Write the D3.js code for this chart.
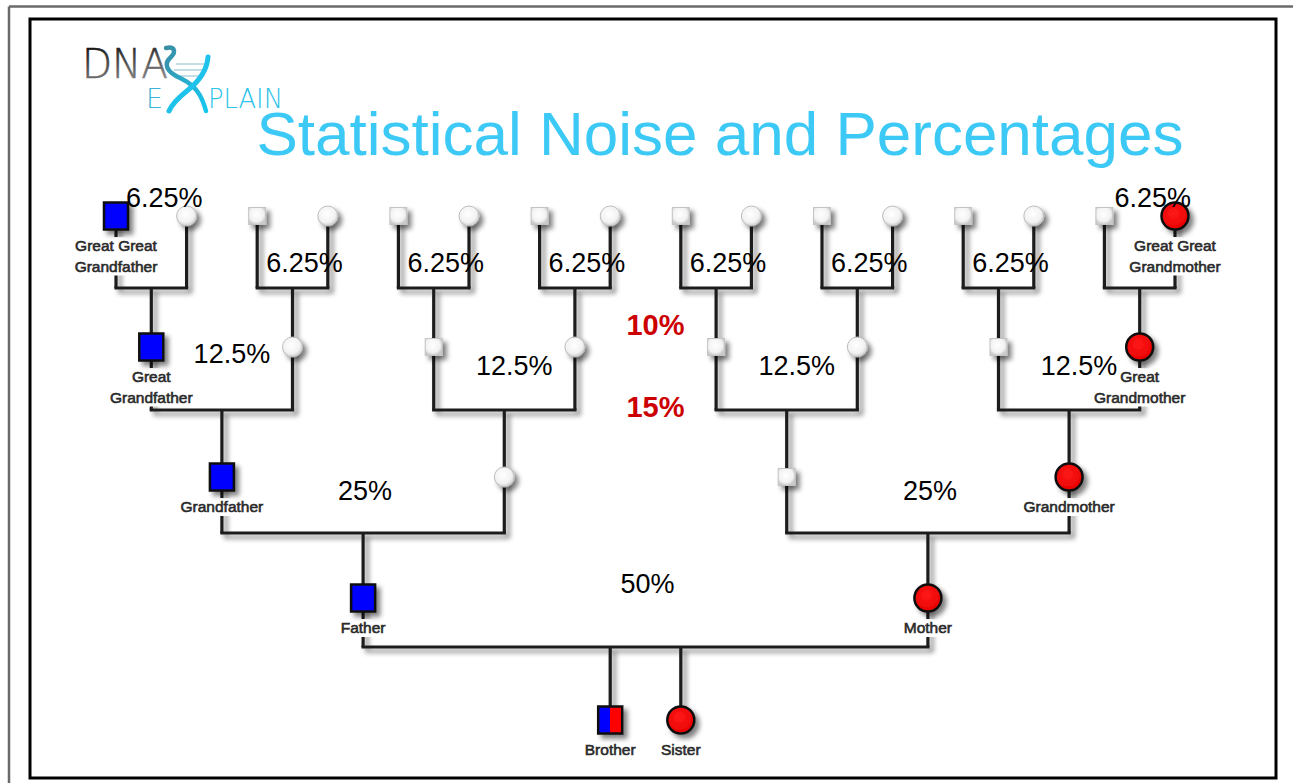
<!DOCTYPE html>
<html><head><meta charset="utf-8">
<script src="https://cdn.jsdelivr.net/npm/d3@7"></script>
<style>html,body{margin:0;padding:0;background:#fff;} svg{display:block}</style>
</head><body>
<svg id="chart" width="1293" height="783"></svg>
<script>
// ---------------- DATA ----------------
const chartTitle = "Statistical Noise and Percentages";
const logoTop = "DNA";
const logoE = "E";
const logoBottom = "PLAIN";
// generation 4 = great-great-grandparents ... 0 = siblings
const gen4Sex  = ["M","F","M","F","M","F","M","F","M","F","M","F","M","F","M","F"];
const gen4Fill = ["blue","white","white","white","white","white","white","white","white","white","white","white","white","white","white","red"];
const gen4Labels = ["Great Great\nGrandfather","","","","","","","","","","","","","","","Great Great\nGrandmother"];
const gen3Sex  = ["M","F","M","F","M","F","M","F"];
const gen3Fill = ["blue","white","white","white","white","white","white","red"];
const gen3Labels = ["Great\nGrandfather","","","","","","","Great\nGrandmother"];
const gen2Sex  = ["M","F","M","F"];
const gen2Fill = ["blue","white","white","red"];
const gen2Labels = ["Grandfather","","","Grandmother"];
const gen1Sex  = ["M","F"];
const gen1Fill = ["blue","red"];
const gen1Labels = ["Father","Mother"];
const gen0Sex  = ["M","F"];
const gen0Fill = ["mixed","red"];
const gen0Labels = ["Brother","Sister"];
// shared DNA expected from each couple
const shareGen4 = ["6.25%","6.25%","6.25%","6.25%","6.25%","6.25%","6.25%","6.25%"];
const shareGen3 = ["12.5%","12.5%","12.5%","12.5%"];
const shareGen2 = ["25%","25%"];
const shareGen1 = ["50%"];
const noiseLabels = ["10%","15%"];

// ---------------- LAYOUT ----------------
const svg = d3.select("#chart");
const defs = svg.append("defs");

const sh = defs.append("filter").attr("id","sh").attr("filterUnits","userSpaceOnUse")
  .attr("x",0).attr("y",0).attr("width",1293).attr("height",783);
sh.append("feGaussianBlur").attr("in","SourceAlpha").attr("stdDeviation",2.4).attr("result","b");
sh.append("feOffset").attr("in","b").attr("dx",4).attr("dy",4).attr("result","o");
const ct = sh.append("feComponentTransfer").attr("in","o").attr("result","s");
ct.append("feFuncA").attr("type","linear").attr("slope",0.5);
const mg = sh.append("feMerge");
mg.append("feMergeNode").attr("in","s");
mg.append("feMergeNode").attr("in","SourceGraphic");

const wg = defs.append("radialGradient").attr("id","wg").attr("cx","45%").attr("cy","40%").attr("r","60%");
wg.append("stop").attr("offset","0%").attr("stop-color","#ffffff");
wg.append("stop").attr("offset","70%").attr("stop-color","#f2f2f2");
wg.append("stop").attr("offset","100%").attr("stop-color","#c9c9c9");
const rg = defs.append("radialGradient").attr("id","rg").attr("cx","45%").attr("cy","40%").attr("r","60%");
rg.append("stop").attr("offset","0%").attr("stop-color","#ff1a1a");
rg.append("stop").attr("offset","100%").attr("stop-color","#e80000");
const mix = defs.append("linearGradient").attr("id","mix").attr("x1","0").attr("x2","1");
mix.append("stop").attr("offset","50%").attr("stop-color","#0000ff");
mix.append("stop").attr("offset","50%").attr("stop-color","#ff0000");
const dnaG = defs.append("linearGradient").attr("id","dnaG").attr("x1","0").attr("y1","0").attr("x2","0.3").attr("y2","1");
dnaG.append("stop").attr("offset","0%").attr("stop-color","#000");
dnaG.append("stop").attr("offset","100%").attr("stop-color","#8a8a8a");
const cyG = defs.append("linearGradient").attr("id","cyG").attr("x1","0").attr("y1","0").attr("x2","1").attr("y2","1");
cyG.append("stop").attr("offset","0%").attr("stop-color","#3a8ea6");
cyG.append("stop").attr("offset","100%").attr("stop-color","#16c8f0");

// frames
svg.append("line").attr("x1",9).attr("y1",6.5).attr("x2",1293).attr("y2",6.5).attr("stroke","#6a6a6a").attr("stroke-width",2.5);
svg.append("line").attr("x1",9).attr("y1",6.5).attr("x2",9).attr("y2",783).attr("stroke","#6a6a6a").attr("stroke-width",2.5);
svg.append("rect").attr("x",30).attr("y",19).attr("width",1246).attr("height",759)
  .attr("fill","none").attr("stroke","#000").attr("stroke-width",3);

// scales
const xTop = d3.scaleLinear().domain([0,15]).range([116,1175]);
const yNode = d3.scaleOrdinal().domain([4,3,2,1,0]).range([216,347,477,598,720]);
const yBar = d3.scaleOrdinal().domain([4,3,2,1]).range([288,410,533,647]);

const gens = {
  4:{sex:gen4Sex, fill:gen4Fill, labels:gen4Labels},
  3:{sex:gen3Sex, fill:gen3Fill, labels:gen3Labels},
  2:{sex:gen2Sex, fill:gen2Fill, labels:gen2Labels},
  1:{sex:gen1Sex, fill:gen1Fill, labels:gen1Labels},
  0:{sex:gen0Sex, fill:gen0Fill, labels:gen0Labels}
};
gens[4].x = gen4Sex.map((d,i)=>xTop(i));
for (let g=3; g>=1; g--) {
  gens[g].x = gens[g].sex.map((d,i)=> (gens[g+1].x[2*i] + gens[g+1].x[2*i+1]) / 2);
}
const step = xTop(1) - xTop(0);
const mid1 = (gens[1].x[0] + gens[1].x[1]) / 2;
gens[0].x = [mid1 - step/2, mid1 + step/2];

const nodes = [];
[4,3,2,1,0].forEach(g=>{
  gens[g].sex.forEach((s,i)=>nodes.push({g, i, sex:s, fill:gens[g].fill[i], label:gens[g].labels[i], x:gens[g].x[i], y:yNode(g)}));
});

// lines
const lineG = svg.append("g").attr("filter","url(#sh)").attr("stroke","#1e1e1e").attr("stroke-width",3.2).attr("fill","none");
function seg(x1,y1,x2,y2){ lineG.append("line").attr("x1",x1).attr("y1",y1).attr("x2",x2).attr("y2",y2); }
for (let g=4; g>=1; g--) {
  const xs = gens[g].x, yb = yBar(g);
  for (let j=0; j<xs.length/2; j++) {
    const a = xs[2*j], b = xs[2*j+1];
    const ytop = g===4 ? yNode(4) : yBar(g+1);
    seg(a,ytop,a,yb); seg(b,ytop,b,yb);
    seg(a-1.6,yb,b+1.6,yb);
  }
}
gens[0].x.forEach(x=>seg(x,yBar(1),x,yNode(0)));

// label backgrounds + nodes + labels
const bgG = svg.append("g");
const nodeG = svg.append("g").attr("filter","url(#sh)");
const labG = svg.append("g").attr("font-family","'Liberation Sans Narrow','Liberation Sans',Arial,sans-serif")
  .attr("font-size",15.5).attr("fill","#2a2a2a").attr("stroke","#2a2a2a").attr("stroke-width",0.6).attr("text-anchor","middle");

nodes.forEach(n=>{
  const big = n.fill !== "white";
  if (n.sex === "M") {
    const w = big ? 24 : 17, h = big ? 27 : 17;
    nodeG.append("rect").attr("x",n.x-w/2).attr("y",n.y-h/2).attr("width",w).attr("height",h)
      .attr("fill", n.fill==="blue" ? "#0000ff" : n.fill==="mixed" ? "url(#mix)" : "url(#wg)")
      .attr("stroke", big ? "#111" : "#c4c4c4").attr("stroke-width", big ? 2.5 : 1);
  } else {
    const r = big ? 13.5 : 10;
    nodeG.append("circle").attr("cx",n.x).attr("cy",n.y).attr("r",r)
      .attr("fill", n.fill==="red" ? "url(#rg)" : "url(#wg)")
      .attr("stroke", big ? "#111" : "#bdbdbd").attr("stroke-width", big ? 2.5 : 1);
  }
  if (n.label) {
    const lines = n.label.split("\n");
    const t = labG.append("text").attr("x",n.x).attr("y",n.y+35);
    lines.forEach((l,k)=>t.append("tspan").attr("x",n.x).attr("dy",k===0?0:20.5).text(l));
    const bb = t.node().getBBox();
    bgG.append("rect").attr("x",bb.x-2).attr("y",bb.y).attr("width",bb.width+4).attr("height",bb.height+1).attr("fill","#fff");
  }
});

// percentages
const pctG = svg.append("g").attr("font-family","'Liberation Sans',Arial,sans-serif").attr("font-size",27).attr("fill","#000").attr("text-anchor","middle");
shareGen4.forEach((s,j)=>{
  const m = (gens[4].x[2*j] + gens[4].x[2*j+1]) / 2;
  const edge = (j===0 || j===shareGen4.length-1);
  pctG.append("text").attr("x", m + (edge ? 13 : 12)).attr("y", edge ? 207 : 272).text(s);
});
shareGen3.forEach((s,j)=>{
  const m = (gens[3].x[2*j] + gens[3].x[2*j+1]) / 2;
  pctG.append("text").attr("x", m + 10).attr("y", j===0 ? 363 : 375).text(s);
});
shareGen2.forEach((s,j)=>{
  const m = (gens[2].x[2*j] + gens[2].x[2*j+1]) / 2;
  pctG.append("text").attr("x", m + 2).attr("y", 500).text(s);
});
shareGen1.forEach((s,j)=>{
  pctG.append("text").attr("x", mid1 + 2).attr("y", 593).text(s);
});
noiseLabels.forEach((s,j)=>{
  pctG.append("text").attr("x", mid1 + 10).attr("y", j===0 ? 335 : 417)
    .attr("font-weight","bold").attr("font-size",29).attr("fill","#cc0000").text(s);
});

// title
svg.append("text").attr("x",720).attr("y",155).attr("text-anchor","middle")
  .attr("font-family","'Liberation Sans',Arial,sans-serif").attr("font-size",62)
  .attr("fill","#3cc9f5").text(chartTitle);

// logo
const logo = svg.append("g");
logo.append("text").attr("x",82).attr("y",78).attr("font-family","'DejaVu Sans',sans-serif").attr("font-weight",200)
  .attr("font-size",40).attr("textLength",86).attr("lengthAdjust","spacingAndGlyphs")
  .attr("fill","url(#dnaG)").attr("stroke","url(#dnaG)").attr("stroke-width",0.5).text(logoTop);
[[176,64,205,64],[174,70,204,70],[178,76,200,76]].forEach(r=>logo.append("line").attr("x1",r[0]).attr("y1",r[1]).attr("x2",r[2]).attr("y2",r[3]).attr("stroke","#9fc7d3").attr("stroke-width",1.2));
logo.append("path").attr("d","M166,48 C175,46 176,52 171,57 C163,64 166,72 182,79 C196,86 202,96 206,111")
  .attr("fill","none").attr("stroke","url(#cyG)").attr("stroke-width",4.5).attr("stroke-linecap","round");
logo.append("path").attr("d","M208,57 C207,70 198,82 188,90 C178,98 172,104 169,111")
  .attr("fill","none").attr("stroke","#1fc2ea").attr("stroke-width",5).attr("stroke-linecap","round");
logo.append("text").attr("x",146).attr("y",108).attr("font-family","'DejaVu Sans',sans-serif").attr("font-weight",200)
  .attr("font-size",27).attr("textLength",17).attr("lengthAdjust","spacingAndGlyphs").attr("fill","#3ab5d8").text(logoE);
logo.append("text").attr("x",208).attr("y",108).attr("font-family","'DejaVu Sans',sans-serif").attr("font-weight",200)
  .attr("font-size",27).attr("textLength",75).attr("lengthAdjust","spacingAndGlyphs").attr("fill","#2ec3ea").text(logoBottom);
</script>
</body></html>
